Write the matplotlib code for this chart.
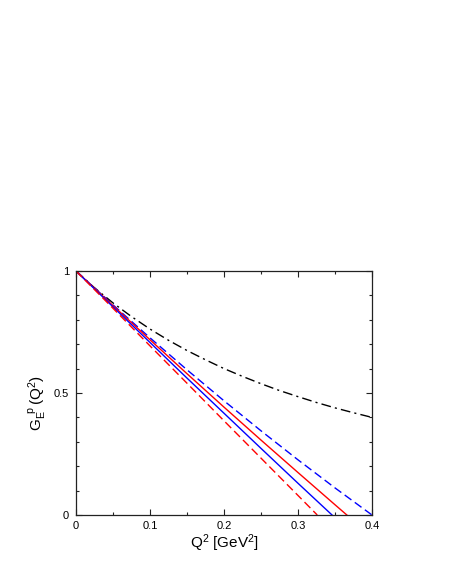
import matplotlib
matplotlib.use("Agg")
import matplotlib.pyplot as plt
from matplotlib.ticker import MultipleLocator

plt.rcParams['font.family'] = ['Liberation Sans', 'DejaVu Sans']
plt.rcParams['mathtext.fontset'] = 'custom'
plt.rcParams['mathtext.rm'] = 'Liberation Sans'
plt.rcParams['mathtext.it'] = 'Liberation Sans'

# black dash-dot curve
q2_k = [0.0, 0.025, 0.05, 0.075, 0.1, 0.125, 0.15, 0.175, 0.2, 0.225,
        0.25, 0.275, 0.3, 0.325, 0.35, 0.375, 0.4]
black_dd = [1.0, 0.931, 0.869, 0.813, 0.762, 0.716, 0.674, 0.636, 0.600,
            0.568, 0.538, 0.510, 0.485, 0.461, 0.439, 0.419, 0.400]

# blue dashed
q2_bd = [0.0, 0.05, 0.1, 0.15, 0.2, 0.25, 0.3, 0.35, 0.4]
blue_dash = [1.0, 0.861, 0.726, 0.595, 0.468, 0.345, 0.226, 0.111, 0.0]

# red solid
q2_rs = [0.0, 0.05, 0.1, 0.15, 0.2, 0.25, 0.3, 0.35, 0.366]
red_solid = [1.0, 0.858, 0.718, 0.579, 0.442, 0.307, 0.174, 0.042, 0.0]

# blue solid
q2_bs = [0.0, 0.05, 0.1, 0.15, 0.2, 0.25, 0.3, 0.346]
blue_solid = [1.0, 0.853, 0.707, 0.561, 0.417, 0.273, 0.130, 0.0]

# red dashed
q2_rd = [0.0, 0.05, 0.1, 0.15, 0.2, 0.25, 0.3, 0.326]
red_dash = [1.0, 0.847, 0.693, 0.540, 0.386, 0.233, 0.080, 0.0]

xticks = [0, 0.1, 0.2, 0.3, 0.4]
xticklabels = ['0', '0.1', '0.2', '0.3', '0.4']
yticks = [0, 0.5, 1]
yticklabels = ['0', '0.5', '1']

fig = plt.figure(figsize=(4.49, 5.81), dpi=100)
ax = fig.add_axes([0.1693, 0.1136, 0.6592, 0.42])

lw = 1.0
ax.plot(q2_k, black_dd, color='black', lw=lw, dashes=(7, 3, 1.5, 3))
ax.plot(q2_bd, blue_dash, color='blue', lw=lw, dashes=(6, 3))
ax.plot(q2_rs, red_solid, color='red', lw=lw)
ax.plot(q2_bs, blue_solid, color='blue', lw=lw)
ax.plot(q2_rd, red_dash, color='red', lw=lw, dashes=(6, 3))

ax.set_xlim(0, 0.4)
ax.set_ylim(0, 1)
ax.set_xticks(xticks)
ax.set_xticklabels(xticklabels)
ax.set_yticks(yticks)
ax.set_yticklabels(yticklabels)
ax.xaxis.set_minor_locator(MultipleLocator(0.05))
ax.yaxis.set_minor_locator(MultipleLocator(0.1))
ax.tick_params(which='both', direction='in', top=True, right=True,
               labelsize=8, width=0.8, colors='#222222', labelcolor='black')
ax.tick_params(which='major', length=4)
ax.tick_params(which='minor', length=2.5)
ax.tick_params(axis='x', which='major', pad=4)
ax.tick_params(axis='y', which='major', pad=5)
for s in ax.spines.values():
    s.set_linewidth(0.9)
    s.set_color('#222222')

ax.set_xlabel(r'Q$^2$ [GeV$^2$]', fontsize=11, labelpad=1)
ax.set_ylabel(r'G$_E^{\ \ p}$$\,$(Q$^2$)', fontsize=11)
ax.yaxis.set_label_coords(-0.092, 0.46)

fig.savefig('out.png', dpi=100)
